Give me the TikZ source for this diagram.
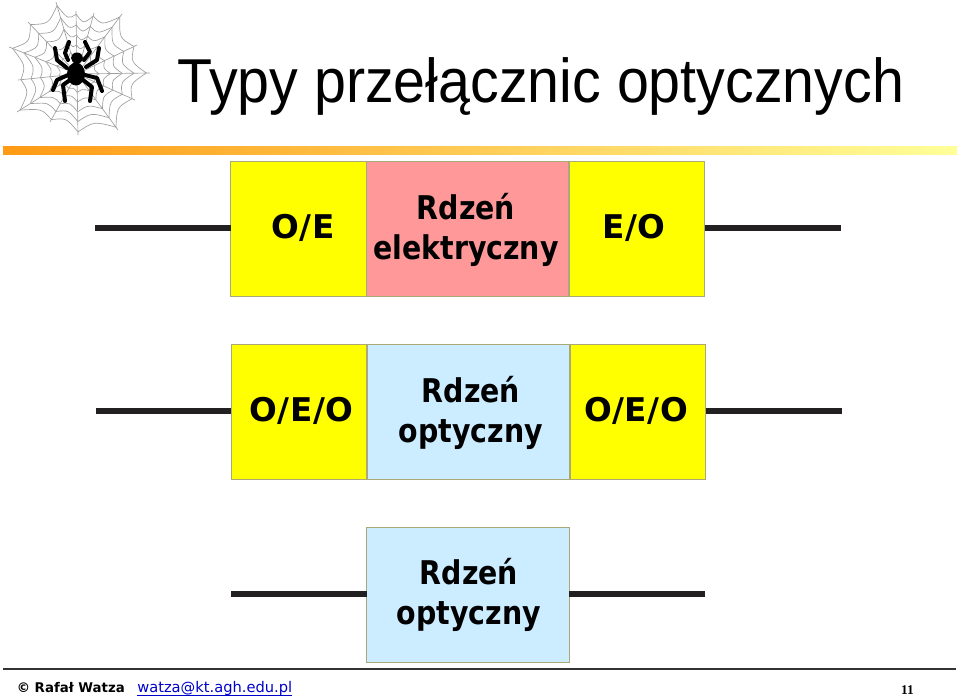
\documentclass[tikz,border=0pt]{standalone}
\usepackage{fontspec}
\setmainfont{DejaVu Sans}
\newfontfamily\titlefont[FakeStretch=0.925]{Liberation Sans}
\newfontfamily\corefont[FakeStretch=0.87]{DejaVu Sans}
\newfontfamily\sidefont[LetterSpace=1.5]{DejaVu Sans}
\newfontfamily\serifbold{Liberation Serif}
\usetikzlibrary{calc}
\definecolor{boxedge}{HTML}{A8A878}
\definecolor{coreyellow}{HTML}{FFFF00}
\definecolor{corepink}{HTML}{FF9999}
\definecolor{coreblue}{HTML}{CCECFF}
\definecolor{linkblue}{HTML}{0000CC}
\definecolor{wire}{HTML}{222020}
\definecolor{webgray}{HTML}{A0A0A0}
\definecolor{barleft}{HTML}{FF9A14}
\definecolor{barright}{HTML}{FFFF99}
\tikzset{
  x=0.75pt,y=-0.75pt,
  blockbox/.style={draw=boxedge,line width=0.75pt,minimum height=101.25pt,inner sep=0pt,outer sep=0pt},
  sidebox/.style={blockbox,fill=coreyellow,minimum width=101.5pt},
  corebox/.style={blockbox,minimum width=152pt},
  sidelabel/.style={inner sep=0pt,font=\sidefont\fontsize{24.5}{30}\selectfont\bfseries,text=black},
  corelabel/.style={inner sep=0pt,align=center,font=\corefont\fontsize{24.5}{30}\selectfont\bfseries,text=black},
  wireline/.style={draw=wire,line width=4.4pt},
  webline/.style={draw=webgray,line width=0.5pt},
  legline/.style={draw=black,line width=3pt,line join=round,line cap=round},
}
\begin{document}
\begin{tikzpicture}
\useasboundingbox (0,0) rectangle (960,696);
\fill[white] (0,0) rectangle (960,696);
% web
\coordinate (c) at (77,74);
\coordinate (p0) at (56,2);
\coordinate (p1) at (76,11);
\coordinate (p2) at (94,13);
\coordinate (p3) at (122,14);
\coordinate (p4) at (137,45);
\coordinate (p5) at (150,73);
\coordinate (p6) at (135,100);
\coordinate (p7) at (118,130);
\coordinate (p8) at (78,135);
\coordinate (p9) at (50,122);
\coordinate (p10) at (17,112);
\coordinate (p11) at (18,80);
\coordinate (p12) at (9,47);
\coordinate (p13) at (28,22);
\foreach \i in {0,...,13}{\draw[webline] (c) -- (p\i);}
\foreach \i [evaluate=\i as \j using {int(mod(\i+1,14))}] in {0,...,13}{
  \foreach \f in {0.3,0.46,0.62,0.78,0.95}{
    \coordinate (mid) at ($(p\i)!0.5!(p\j)$);
    \draw[webline] ($(c)!\f!(p\i)$) .. controls ($(c)!0.85*\f!(mid)$) .. ($(c)!\f!(p\j)$);
  }
}
% spider
\draw[legline] (68,60) -- (65,53) -- (69,42);
\draw[legline] (67,68) -- (57,60) -- (55,48);
\draw[legline] (68,75) -- (57,80) -- (53,90);
\draw[legline] (70,80) -- (63,85) -- (65,101);
\draw[legline] (84,60) -- (90,52) -- (85,42);
\draw[legline] (86,67) -- (97,60) -- (99,48);
\draw[legline] (85,75) -- (97,78) -- (102,91);
\draw[legline] (83,80) -- (92,87) -- (90,101);
\fill[black] (77,58) ellipse [x radius=6,y radius=5.5];
\fill[black] (76,74) ellipse [x radius=9,y radius=11.5];
% title
\node[anchor=base west,inner sep=0pt,font=\titlefont\fontsize{46.5}{56}\selectfont,text=black] (title) at (177,102) {Typy przełącznic optycznych};
% bar
\shade[left color=barleft,right color=barright] (3,146) rectangle (957,154);
% row 1
\node[sidebox] (a1) at (298.5,228.5) {};
\node[corebox,fill=corepink] (a2) at (467.5,228.5) {};
\node[sidebox] (a3) at (637,228.5) {};
\node[sidelabel] (a1t) at (303,228) {O/E};
\node[corelabel] (a2t) at (466,230) {Rdzeń\\elektryczny};
\node[sidelabel] (a3t) at (634,228) {E/O};
\coordinate (a0l) at (95,228); \coordinate (a0r) at (841,228);
\draw[wireline] (a0l) -- (a0l -| a1.west);
\draw[wireline] (a3.east |- a0r) -- (a0r);
% row 2
\node[sidebox] (b1) at (299,412) {};
\node[corebox,fill=coreblue] (b2) at (468.5,412) {};
\node[sidebox] (b3) at (638,412) {};
\node[sidelabel] (b1t) at (301.5,411) {O/E/O};
\node[corelabel] (b2t) at (471,413) {Rdzeń\\optyczny};
\node[sidelabel] (b3t) at (636,411) {O/E/O};
\coordinate (b0l) at (96,411); \coordinate (b0r) at (842,411);
\draw[wireline] (b0l) -- (b0l -| b1.west);
\draw[wireline] (b3.east |- b0r) -- (b0r);
% row 3
\node[corebox,fill=coreblue] (c2) at (468,594.5) {};
\node[corelabel] (c2t) at (469,594.5) {Rdzeń\\optyczny};
\coordinate (c0l) at (231,594); \coordinate (c0r) at (705,594);
\draw[wireline] (c0l) -- (c0l -| c2.west);
\draw[wireline] (c2.east |- c0r) -- (c0r);
% footer
\coordinate (fl) at (3,669); \coordinate (fr) at (956,669);
\draw[draw=black!80,line width=1.1pt] (fl) -- (fr);
\node[anchor=base west,inner sep=0pt,font=\fontsize{10}{12}\selectfont\bfseries] (author) at (16.5,692.5) {© Rafał Watza};
\node[anchor=base west,inner sep=0pt,font=\fontsize{11}{12}\selectfont,text=linkblue] (mail) at (137,692.5) {watza@kt.agh.edu.pl};
\coordinate (ul) at (137,695); \coordinate (ur) at (292,695);
\draw[linkblue,line width=0.7pt] (ul) -- (ur);
\node[anchor=base,inner sep=0pt,font=\serifbold\fontsize{10}{12}\selectfont\bfseries] (num) at (907.5,694) {11};
\end{tikzpicture}
\end{document}
